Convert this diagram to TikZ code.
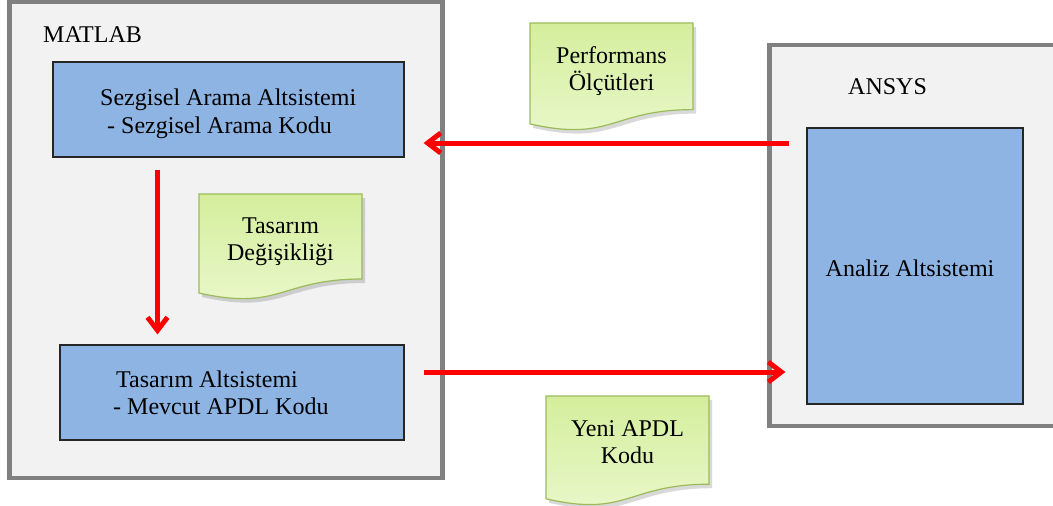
\documentclass[tikz,border=0pt]{standalone}
\usepackage{fontspec}
\setmainfont{Liberation Serif}
\usetikzlibrary{arrows.meta,calc}
\definecolor{panelfill}{HTML}{F2F2F2}
\definecolor{panelline}{HTML}{808080}
\definecolor{boxfill}{HTML}{8EB4E3}
\definecolor{boxline}{HTML}{262626}
\definecolor{doctop}{HTML}{D4EE9C}
\definecolor{docbot}{HTML}{EAF8CC}
\definecolor{docline}{HTML}{9BBB59}
\definecolor{arrred}{HTML}{FF0000}
\tikzset{
  panel/.style={draw=panelline, fill=panelfill, line width=4.5pt, rectangle, inner sep=0pt},
  subbox/.style={draw=boxline, fill=boxfill, line width=1.2pt, rectangle, inner sep=0pt},
  doctext/.style={align=center, inner sep=0pt, font=\fontsize{24}{27}\selectfont},
  lbl/.style={inner sep=0pt, font=\fontsize{24}{26}\selectfont},
  arr/.style={draw=arrred, line width=5pt, -{Straight Barb[length=13pt,width=20pt]}},
}
\newcommand\docshape[3]{% name, top-left, bottom-right
  \path[fill=black, opacity=0.15] let \p1=#2, \p2=#3 in
    ($(\x1,\y1)+(3pt,-4pt)$) -- ($(\x2,\y1)+(3pt,-4pt)$) -- ($({\x2},{\y1+0.802*(\y2-\y1)})+(3pt,-4pt)$)
    .. controls ($({0.5*(\x1+\x2)},{\y1+0.802*(\y2-\y1)})+(3pt,-4pt)$) and ($({0.5*(\x1+\x2)},{\y1+1.107*(\y2-\y1)})+(3pt,-4pt)$)
    .. ($({\x1},{\y1+0.934*(\y2-\y1)})+(3pt,-4pt)$) -- cycle;
  \path[draw=docline, line width=1.2pt, top color=doctop, bottom color=docbot] let \p1=#2, \p2=#3 in
    (\x1,\y1) -- (\x2,\y1) -- ({\x2},{\y1+0.802*(\y2-\y1)})
    .. controls ({0.5*(\x1+\x2)},{\y1+0.802*(\y2-\y1)}) and ({0.5*(\x1+\x2)},{\y1+1.107*(\y2-\y1)})
    .. ({\x1},{\y1+0.934*(\y2-\y1)}) -- cycle;
}
\begin{document}
\begin{tikzpicture}[x=1pt,y=-1pt]
\useasboundingbox (0,0) rectangle (1053,506);
% panels
\node[panel, minimum width=433pt, minimum height=476pt] (matlab) at (226,240) {};
\node[panel, minimum width=300pt, minimum height=381pt] (ansys) at (919.5,235.5) {};
\node[lbl, anchor=base west] (matlabl) at (43,42) {MATLAB};
\node[lbl, anchor=base west] (ansysl) at (848,94) {ANSYS};
% sub boxes
\node[subbox, minimum width=351pt, minimum height=95pt] (sezg) at (228.5,109.5) {};
\node[subbox, minimum width=344pt, minimum height=95pt] (tasar) at (232,392.5) {};
\node[subbox, minimum width=216pt, minimum height=276pt] (analiz) at (915,266) {};
\node[lbl, anchor=base west] (sezgt1) at (100,105) {Sezgisel Arama Altsistemi};
\node[lbl, anchor=base west] (sezgt2) at (107,133) {- Sezgisel Arama Kodu};
\node[lbl, anchor=base west] (tasart1) at (116,387) {Tasarım Altsistemi};
\node[lbl, anchor=base west] (tasart2) at (113,414) {- Mevcut APDL Kodu};
\node[lbl] (analizt) at (910,268) {Analiz Altsistemi};
% documents
\docshape{perf}{(530,23)}{(693,131)}
\node[doctext] (perf) at (611.5,71) {Performans\\Ölçütleri};
\docshape{degis}{(199,194)}{(362,300)}
\node[doctext] (degis) at (280.5,242) {Tasarım\\Değişikliği};
\docshape{yeni}{(546,396)}{(709,506)}
\node[doctext] (yeni) at (627.5,442) {Yeni APDL\\Kodu};
% arrows
\draw[arr] ([xshift=-17pt]analiz.west |- 0,143) -- ([xshift=19pt]sezg.east |- 0,143);
\draw[arr] ([yshift=-12pt]sezg.south -| 157.5,0) -- ([yshift=10pt]tasar.north -| 157.5,0);
\draw[arr] ([xshift=19pt]tasar.east |- 0,372) -- ([xshift=-21pt]analiz.west |- 0,372);
\end{tikzpicture}
\end{document}
